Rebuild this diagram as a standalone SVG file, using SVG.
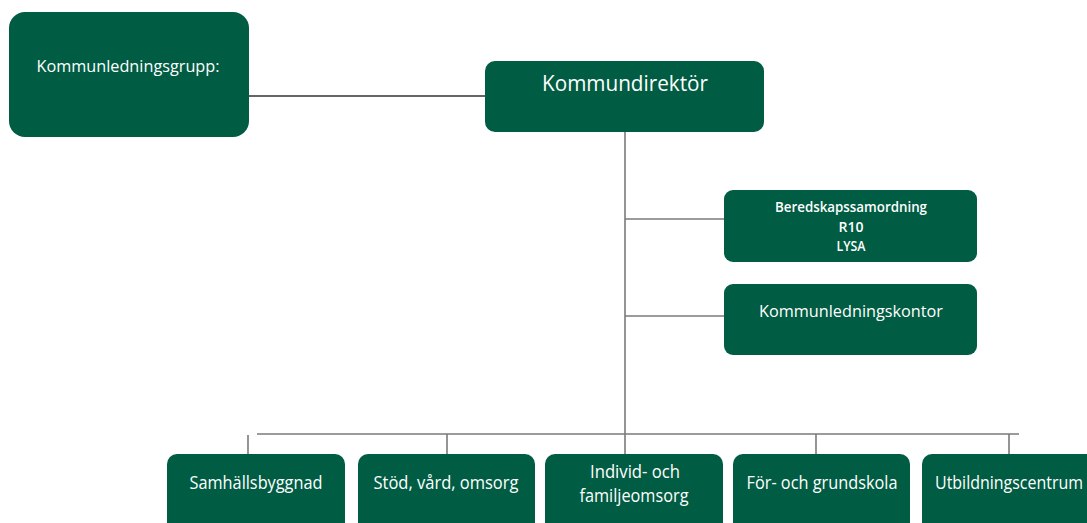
<svg xmlns="http://www.w3.org/2000/svg" width="1087" height="523" viewBox="0 0 1087 523">
<style>
.box{fill:#005C42;}
.t{fill:#ffffff;font-family:"Open Sans","Liberation Sans",sans-serif;text-anchor:middle;}
.ln{stroke:#7a7a7a;stroke-width:1.6;fill:none;}
.dk{stroke:#333333;stroke-width:1.4;fill:none;}
</style>
<rect width="1087" height="523" fill="#ffffff"/>
<g id="connectors">
<line class="dk" x1="249" y1="96" x2="485" y2="96"/>
<line class="ln" x1="625" y1="132" x2="625" y2="434"/>
<line class="ln" x1="625" y1="219" x2="724" y2="219"/>
<line class="ln" x1="625" y1="316" x2="724" y2="316"/>
<line class="ln" x1="257" y1="434" x2="1019" y2="434"/>
<line class="ln" x1="248" y1="435" x2="248" y2="454"/>
<line class="ln" x1="447" y1="434" x2="447" y2="454"/>
<line class="ln" x1="625" y1="434" x2="625" y2="454"/>
<line class="ln" x1="816" y1="434" x2="816" y2="454"/>
<line class="ln" x1="1009" y1="434" x2="1009" y2="454"/>
</g>
<g id="kommunledningsgrupp">
<rect class="box" x="9" y="12" width="240" height="125" rx="16"/>
<text class="t" x="128" y="72" font-size="16" textLength="183" lengthAdjust="spacingAndGlyphs">Kommunledningsgrupp:</text>
</g>
<g id="kommundirektor">
<rect class="box" x="485" y="61" width="279" height="71" rx="10"/>
<text class="t" x="625" y="91" font-size="22" textLength="166" lengthAdjust="spacingAndGlyphs">Kommundirektör</text>
</g>
<g id="beredskap">
<rect class="box" x="724" y="190" width="253" height="72" rx="9"/>
<text class="t" x="851" y="212" font-size="14" font-weight="600" textLength="152" lengthAdjust="spacingAndGlyphs">Beredskapssamordning</text>
<text class="t" x="851" y="232" font-size="14" font-weight="600" textLength="25" lengthAdjust="spacingAndGlyphs">R10</text>
<text class="t" x="851" y="251" font-size="14" font-weight="600" textLength="29" lengthAdjust="spacingAndGlyphs">LYSA</text>
</g>
<g id="kommunledningskontor">
<rect class="box" x="724" y="284" width="253" height="71" rx="9"/>
<text class="t" x="851" y="317" font-size="17" textLength="184" lengthAdjust="spacingAndGlyphs">Kommunledningskontor</text>
</g>
<g id="samhallsbyggnad">
<rect class="box" x="167" y="454" width="178" height="80" rx="10"/>
<text class="t" x="256" y="489" font-size="18" textLength="133" lengthAdjust="spacingAndGlyphs">Samhällsbyggnad</text>
</g>
<g id="stod">
<rect class="box" x="358" y="454" width="177" height="80" rx="10"/>
<text class="t" x="446" y="489" font-size="18" textLength="145" lengthAdjust="spacingAndGlyphs">Stöd, vård, omsorg</text>
</g>
<g id="individ">
<rect class="box" x="545" y="454" width="178" height="80" rx="10"/>
<text class="t" x="635" y="478" font-size="18" textLength="90" lengthAdjust="spacingAndGlyphs">Individ- och</text>
<text class="t" x="634" y="502" font-size="18" textLength="109" lengthAdjust="spacingAndGlyphs">familjeomsorg</text>
</g>
<g id="grundskola">
<rect class="box" x="733" y="454" width="177" height="80" rx="10"/>
<text class="t" x="822" y="489" font-size="18" textLength="151" lengthAdjust="spacingAndGlyphs">För- och grundskola</text>
</g>
<g id="utbildningscentrum">
<rect class="box" x="922" y="454" width="178" height="80" rx="10"/>
<text class="t" x="1009" y="489" font-size="18" textLength="148" lengthAdjust="spacingAndGlyphs">Utbildningscentrum</text>
</g>
</svg>
